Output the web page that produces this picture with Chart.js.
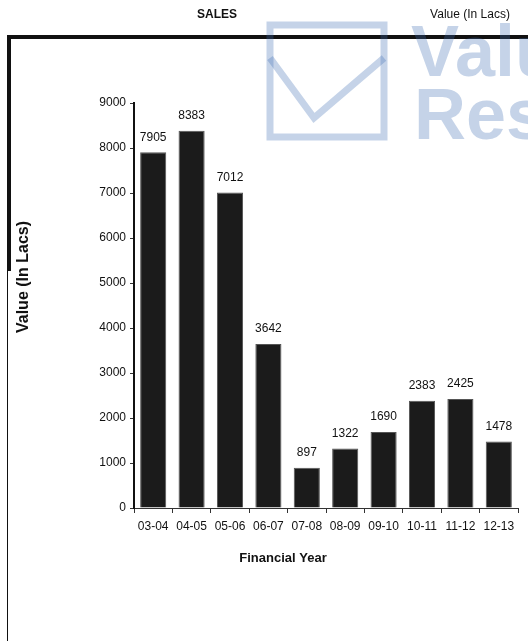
<!DOCTYPE html>
<html>
<head>
<meta charset="utf-8">
<script src="https://cdn.jsdelivr.net/npm/chart.js@4.4.1/dist/chart.umd.min.js"></script>
<style>
  html, body { margin: 0; padding: 0; background: #fff; }
  #wrap { width: 528px; height: 641px; position: relative; }
</style>
</head>
<body>
<div id="wrap"><canvas id="sales"></canvas></div>
<script>
// financial years and sales (Value in Lacs)
var years = ['03-04', '04-05', '05-06', '06-07', '07-08', '08-09', '09-10', '10-11', '11-12', '12-13'];
var sales = [7905, 8383, 7012, 3642, 897, 1322, 1690, 2383, 2425, 1478];
var yTicks = [0, 1000, 2000, 3000, 4000, 5000, 6000, 7000, 8000, 9000];

var FONT = '"Liberation Sans", Arial, sans-serif';

// frame, headers, axis titles and bar value labels
var decor = {
  id: 'decor',
  beforeDraw: function(chart){
    var ctx = chart.ctx;
    ctx.save();
    ctx.fillStyle = '#fff';
    ctx.fillRect(0, 0, chart.width, chart.height);
    ctx.fillStyle = '#111';
    ctx.fillRect(7, 35, 521, 4);
    ctx.fillRect(7, 35, 4, 236);
    ctx.fillRect(7, 258, 1, 383);
    ctx.textAlign = 'center';
    ctx.textBaseline = 'middle';
    ctx.font = 'bold 12px ' + FONT;
    ctx.fillText('SALES', 217, 15);
    ctx.font = '12px ' + FONT;
    ctx.fillText('Value (In Lacs)', 470, 15);
    ctx.font = 'bold 13px ' + FONT;
    ctx.fillText('Financial Year', 283, 558);
    ctx.translate(24, 277);
    ctx.rotate(-Math.PI / 2);
    ctx.font = 'bold 16px ' + FONT;
    ctx.fillText('Value (In Lacs)', 0, 0);
    ctx.restore();
  },
  afterDatasetsDraw: function(chart){
    var ctx = chart.ctx;
    var meta = chart.getDatasetMeta(0);
    ctx.save();
    ctx.fillStyle = '#111';
    ctx.font = '12px ' + FONT;
    ctx.textAlign = 'center';
    ctx.textBaseline = 'middle';
    meta.data.forEach(function(bar, i){
      ctx.fillText(sales[i], bar.x, bar.y - 15);
    });
    ctx.restore();
  },
  afterDraw: function(chart){
    // Value Research watermark
    var ctx = chart.ctx;
    ctx.save();
    ctx.globalAlpha = 0.3;
    ctx.strokeStyle = 'rgb(62,108,178)';
    ctx.fillStyle = 'rgb(62,108,178)';
    ctx.lineWidth = 7;
    ctx.strokeRect(270, 25, 114, 112);
    ctx.beginPath();
    ctx.moveTo(270, 58);
    ctx.lineTo(314, 118);
    ctx.lineTo(384, 58);
    ctx.stroke();
    ctx.font = 'bold 72px ' + FONT;
    ctx.textAlign = 'left';
    ctx.textBaseline = 'alphabetic';
    ctx.fillText('Value', 411, 76);
    ctx.fillText('Research', 414, 139);
    ctx.restore();
  }
};

var ctx = document.getElementById('sales').getContext('2d');
var salesChart = new Chart(ctx, {
  type: 'bar',
  plugins: [decor],
  data: {
    labels: years,
    datasets: [{
      label: 'Sales',
      data: sales,
      backgroundColor: '#1b1b1b',
      borderColor: '#555',
      borderWidth: 1,
      categoryPercentage: 1,
      barPercentage: 0.68
    }]
  },
  options: {
    responsive: true,
    maintainAspectRatio: false,
    animation: false,
    layout: { padding: { left: 0, top: 103, right: 10, bottom: 103 } },
    plugins: {
      legend: { display: false },
      tooltip: { enabled: false }
    },
    scales: {
      x: {
        afterFit: function(scale){ scale.height = 30; },
        grid: { drawOnChartArea: false, tickLength: 5, color: '#333', offset: true },
        border: { display: true, color: '#333', width: 1 },
        ticks: { color: '#111', font: { size: 12, family: FONT }, padding: 6, maxRotation: 0, autoSkip: false }
      },
      y: {
        min: 0,
        max: 9000,
        afterFit: function(scale){ scale.width = 134; },
        afterBuildTicks: function(scale){
          scale.ticks = yTicks.map(function(v){ return { value: v }; });
        },
        grid: { drawOnChartArea: false, tickLength: 4, color: '#333' },
        border: { display: true, color: '#111', width: 2 },
        ticks: {
          color: '#111',
          font: { size: 12, family: FONT },
          padding: 4,
          callback: function(v){ return String(v); }
        }
      }
    }
  }
});
</script>
</body>
</html>
